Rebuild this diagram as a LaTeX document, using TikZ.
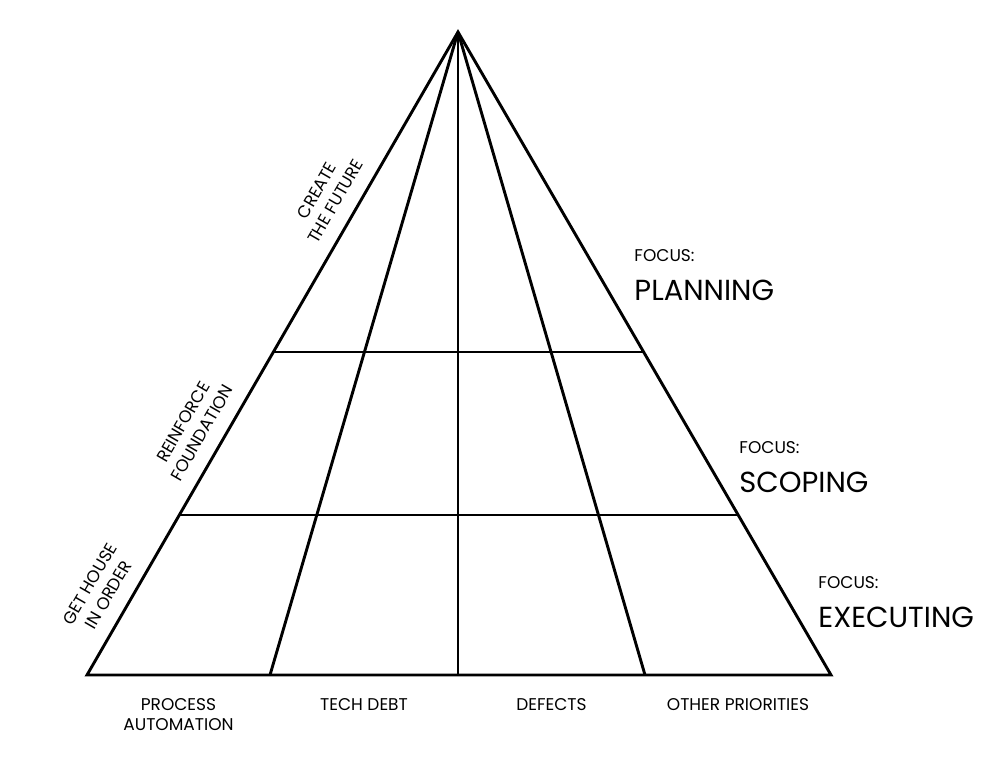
\documentclass[tikz,border=0pt]{standalone}
\usepackage{fontspec}
\setmainfont{Poppins}
\usetikzlibrary{calc,positioning}

\begin{document}
\begin{tikzpicture}[x=0.5pt, y=-0.5pt, line width=1.45pt,
  edge/.style={line join=miter, line cap=butt},
  colname/.style={font=\fontsize{8.5}{10}\selectfont, align=center, anchor=north, inner sep=0pt},
  tier/.style={font=\fontsize{8.5}{10.8}\selectfont, align=center, sloped, above=7pt, inner sep=0pt},
  focus/.style={font=\fontsize{8.5}{10}\selectfont, anchor=west, inner sep=0pt},
  stage/.style={font=\fontsize{14.5}{17}\selectfont, inner sep=0pt}]
\useasboundingbox (0,0) rectangle (995,778);

\coordinate (apex) at (458,32);
\coordinate (bl) at (87,675);
\coordinate (br) at (831,675);
\coordinate (b1) at (270,675);
\coordinate (b2) at (458,675);
\coordinate (b3) at (645,675);

% pyramid
\draw[edge] (bl) -- (apex) -- (br) -- cycle;
\draw (apex) -- (b1);
\draw (apex) -- (b2);
\draw (apex) -- (b3);
\draw ($(apex)!0.4977!(bl)$) -- ($(apex)!0.4977!(br)$);
\draw ($(apex)!0.7512!(bl)$) -- ($(apex)!0.7512!(br)$);

% tiers
\path (bl) -- (apex)
  node[tier, pos=0.108] (house) {GET HOUSE\\IN ORDER}
  node[tier, pos=0.360] (found) {REINFORCE\\FOUNDATION}
  node[tier, pos=0.720] (future) {CREATE\\THE FUTURE};

% focus
\node[focus] (f1) at (633,256) {FOCUS:};
\node[stage, below=7.5pt of f1.south west, anchor=north west] (planning) {PLANNING};
\node[focus] (f2) at (738,448) {FOCUS:};
\node[stage, below=7.5pt of f2.south west, anchor=north west] (scoping) {SCOPING};
\node[focus] (f3) at (817,583) {FOCUS:};
\node[stage, below=7.5pt of f3.south west, anchor=north west] (executing) {EXECUTING};

% columns
\node[colname] (automation) at ($(bl)!0.5!(b1)+(0,22)$) {PROCESS\\AUTOMATION};
\node[colname] (techdebt) at ($(b1)!0.5!(b2)+(0,22)$) {TECH DEBT};
\node[colname] (defects) at ($(b2)!0.5!(b3)+(0,22)$) {DEFECTS};
\node[colname] (other) at ($(b3)!0.5!(br)+(0,22)$) {OTHER PRIORITIES};
\end{tikzpicture}
\end{document}
